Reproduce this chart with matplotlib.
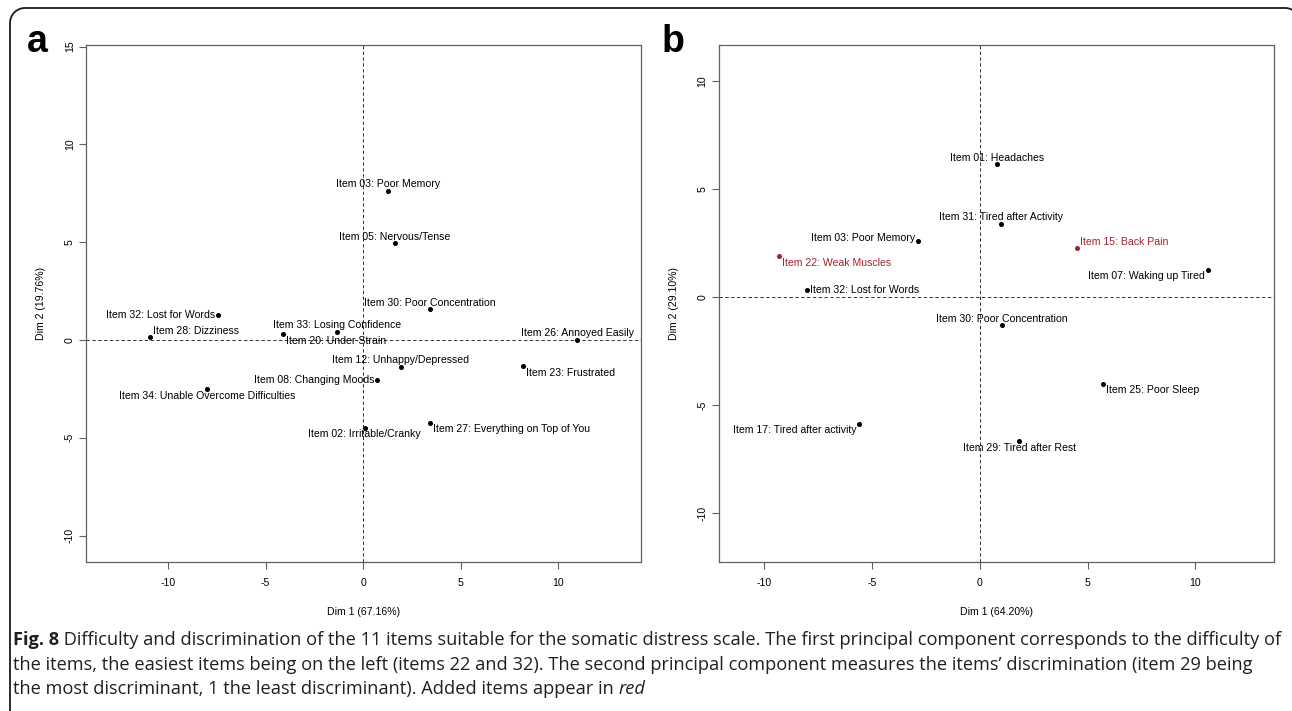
import matplotlib
matplotlib.use('Agg')
import numpy as np
import matplotlib.pyplot as plt

W, H = 1292, 711

# panel a: items of the psychological scale (PCA coordinates)
items_a = ['Item 03: Poor Memory', 'Item 05: Nervous/Tense', 'Item 30: Poor Concentration',
           'Item 32: Lost for Words', 'Item 28: Dizziness', 'Item 33: Losing Confidence',
           'Item 20: Under Strain', 'Item 26: Annoyed Easily', 'Item 12: Unhappy/Depressed',
           'Item 23: Frustrated', 'Item 08: Changing Moods',
           'Item 34: Unable Overcome Difficulties', 'Item 02: Irritable/Cranky',
           'Item 27: Everything on Top of You']
dim1_a = [1.30, 1.64, 3.44, -7.44, -10.95, -1.36, -4.10, 10.99, 1.93, 8.18, 0.72, -8.02, 0.08, 3.42]
dim2_a = [7.62, 4.98, 1.56, 1.29, 0.15, 0.39, 0.31, 0.00, -1.39, -1.34, -2.04, -2.52, -4.51, -4.25]
added_a = [False] * len(items_a)

# panel b: somatic distress items
items_b = ['Item 01: Headaches', 'Item 31: Tired after Activity', 'Item 03: Poor Memory',
           'Item 15: Back Pain', 'Item 22: Weak Muscles', 'Item 07: Waking up Tired',
           'Item 32: Lost for Words', 'Item 30: Poor Concentration', 'Item 25: Poor Sleep',
           'Item 17: Tired after activity', 'Item 29: Tired after Rest']
dim1_b = [0.79, 0.98, -2.85, 4.53, -9.29, 10.59, -8.02, 1.04, 5.71, -5.58, 1.83]
dim2_b = [6.17, 3.39, 2.62, 2.27, 1.93, 1.25, 0.32, -1.30, -4.03, -5.88, -6.64]
added_b = [False, False, False, True, True, False, False, False, False, False, False]

xlab_a, ylab_a = 'Dim 1 (67.16%)', 'Dim 2 (19.76%)'
xlab_b, ylab_b = 'Dim 1 (64.20%)', 'Dim 2 (29.10%)'

# where each label sits around its point: (dx px, dy px, ha)
place_a = {
    'Item 03: Poor Memory': (0, 7, 'center'),
    'Item 05: Nervous/Tense': (0, 6, 'center'),
    'Item 30: Poor Concentration': (0, 6, 'center'),
    'Item 32: Lost for Words': (-3, 0, 'right'),
    'Item 28: Dizziness': (3, 6, 'left'),
    'Item 33: Losing Confidence': (0, 7, 'center'),
    'Item 20: Under Strain': (3, -7, 'left'),
    'Item 26: Annoyed Easily': (0, 7, 'center'),
    'Item 12: Unhappy/Depressed': (0, 7, 'center'),
    'Item 23: Frustrated': (3, -7, 'left'),
    'Item 08: Changing Moods': (-3, 0, 'right'),
    'Item 34: Unable Overcome Difficulties': (0, -7, 'center'),
    'Item 02: Irritable/Cranky': (0, -6, 'center'),
    'Item 27: Everything on Top of You': (3, -6, 'left'),
}
place_b = {
    'Item 01: Headaches': (0, 6, 'center'),
    'Item 31: Tired after Activity': (0, 7, 'center'),
    'Item 03: Poor Memory': (-3, 3, 'right'),
    'Item 15: Back Pain': (3, 6, 'left'),
    'Item 22: Weak Muscles': (3, -7, 'left'),
    'Item 07: Waking up Tired': (-3, -6, 'right'),
    'Item 32: Lost for Words': (3, 0, 'left'),
    'Item 30: Poor Concentration': (0, 6, 'center'),
    'Item 25: Poor Sleep': (3, -6, 'left'),
    'Item 17: Tired after activity': (-3, -6, 'right'),
    'Item 29: Tired after Rest': (0, -7, 'center'),
}

FONT = ['Liberation Sans', 'DejaVu Sans']
plt.rcParams['font.family'] = FONT
RED = '#a3232a'
AXCOL = '#606060'
FS = 7.6


def fx(x):
    return x / W


def fy(y):
    return 1 - y / H


fig = plt.figure(figsize=(W / 100, H / 100), dpi=100)

# rounded frame: left side, top side and the two top corners; right/bottom run off the page
bg = fig.add_axes([0, 0, 1, 1], zorder=-5)
bg.set_xlim(0, W)
bg.set_ylim(H, 0)
bg.axis('off')
r, fl, ft, fr, fb = 15, 10, 8, 1300, 722
a1 = np.linspace(np.pi, 1.5 * np.pi, 20)       # top-left corner (y axis points down)
a2 = np.linspace(1.5 * np.pi, 2 * np.pi, 20)   # top-right corner
frame_x = np.concatenate([[fl], fl + r + r * np.cos(a1), fr - r + r * np.cos(a2), [fr]])
frame_y = np.concatenate([[fb], ft + r + r * np.sin(a1), ft + r + r * np.sin(a2), [fb]])
bg.plot(frame_x, frame_y, color='#1a1a1a', lw=1.3, solid_capstyle='butt', clip_on=False)


def panel(box, xs, ys, labels, added, place, xlim, ylim, xlab, ylab, letter, letter_x):
    left, top, right, bottom = box
    ax = fig.add_axes([fx(left), fy(bottom), fx(right - left), (bottom - top) / H])
    ax.set_xlim(*xlim)
    ax.set_ylim(*ylim)
    ax.axhline(0, color='#333333', lw=0.7, ls=(0, (3.5, 2.5)), zorder=1)
    ax.axvline(0, color='#333333', lw=0.7, ls=(0, (3.5, 2.5)), zorder=1)
    for x, y, lab, red in zip(xs, ys, labels, added):
        col = RED if red else 'black'
        ax.plot(x, y, 'o', ms=2.6, color=col, mec=col, zorder=3)
        dx, dy, ha = place[lab]
        ax.annotate(lab, (x, y), xytext=(dx, dy), textcoords='offset pixels',
                    ha=ha, va='center', fontsize=FS, color=col)
    ax.set_xticks([-10, -5, 0, 5, 10])
    ax.set_yticks([t for t in (-10, -5, 0, 5, 10, 15) if ylim[0] < t < ylim[1]])
    ax.set_xticklabels([str(t) for t in ax.get_xticks().astype(int)])
    ax.set_yticklabels([str(t) for t in ax.get_yticks().astype(int)],
                       rotation=90, va='center')
    ax.tick_params(axis='x', length=5, width=0.8, color=AXCOL, pad=6.5, labelsize=FS)
    ax.tick_params(axis='y', length=5, width=0.8, color=AXCOL, pad=3.2, labelsize=FS)
    for s in ax.spines.values():
        s.set_color(AXCOL)
        s.set_linewidth(0.9)
    fig.text(fx((left + right) / 2), fy(612), xlab, ha='center', va='center', fontsize=FS)
    fig.text(fx(left - 45), fy((top + bottom) / 2), ylab, ha='center', va='center',
             rotation=90, fontsize=FS)
    fig.text(fx(letter_x), fy(52), letter, ha='left', va='baseline', fontsize=27,
             fontweight='bold')
    return ax


panel((86.2, 45, 641.4, 562), dim1_a, dim2_a, items_a, added_a, place_a,
      (-14.2, 14.27), (-11.35, 15.08), xlab_a, ylab_a, 'a', 27)
panel((719, 45, 1274.1, 562), dim1_b, dim2_b, items_b, added_b, place_b,
      (-12.09, 13.65), (-12.25, 11.68), xlab_b, ylab_b, 'b', 662)

# caption, drawn piece by piece so bold / italic runs follow each other
caption = [
    [('Fig. 8', 'bold', 'normal'),
     (' Difficulty and discrimination of the 11 items suitable for the somatic distress scale. '
      'The first principal component corresponds to the difficulty of', 'normal', 'normal')],
    [('the items, the easiest items being on the left (items 22 and 32). The second principal '
      'component measures the items\u2019 discrimination (item 29 being', 'normal', 'normal')],
    [('the most discriminant, 1 the least discriminant). Added items appear in ', 'normal', 'normal'),
     ('red', 'normal', 'italic')],
]
cap_base = [645, 670, 694]
cap_x0, cap_x1 = 13, 1276
CAPFONT = ['Open Sans', 'DejaVu Sans']
renderer = fig.canvas.get_renderer()


def draw_line(parts, y, size):
    x = cap_x0
    drawn = []
    for txt, weight, style in parts:
        t = fig.text(fx(x), fy(y), txt, ha='left', va='baseline', fontsize=size,
                     fontweight=weight, fontstyle=style, color='#231f20', family=CAPFONT)
        x += t.get_window_extent(renderer).width
        drawn.append(t)
    return drawn, x - cap_x0


# size the caption so its first line fills the frame width
trial, width = draw_line(caption[0], cap_base[0], 12)
for t in trial:
    t.remove()
cap_size = 12 * (cap_x1 - cap_x0) / width
for parts, y in zip(caption, cap_base):
    draw_line(parts, y, cap_size)

fig.savefig('out.png', dpi=100)
